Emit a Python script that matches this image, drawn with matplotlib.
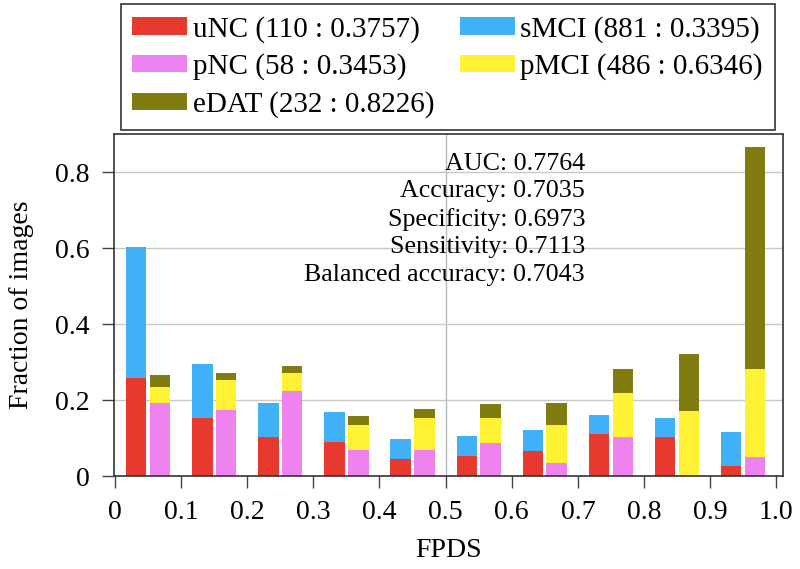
import numpy as np
import matplotlib
matplotlib.use("Agg")
import matplotlib.pyplot as plt

plt.rcParams['font.family'] = ['Liberation Serif', 'DejaVu Serif']

# bin starts of the FPDS histogram
bins = [0.0, 0.1, 0.2, 0.3, 0.4, 0.5, 0.6, 0.7, 0.8, 0.9]

# fraction of images per class and bin
uNC = [0.257, 0.154, 0.102, 0.090, 0.046, 0.054, 0.066, 0.110, 0.102, 0.026]
sMCI = [0.345, 0.140, 0.089, 0.078, 0.052, 0.051, 0.056, 0.050, 0.052, 0.089]
pNC = [0.191, 0.174, 0.225, 0.068, 0.068, 0.088, 0.035, 0.104, 0.000, 0.051]
pMCI = [0.044, 0.079, 0.047, 0.067, 0.084, 0.064, 0.100, 0.115, 0.172, 0.230]
eDAT = [0.031, 0.019, 0.017, 0.023, 0.025, 0.037, 0.056, 0.062, 0.150, 0.586]

labels = {
    'uNC': 'uNC (110 : 0.3757)',
    'sMCI': 'sMCI (881 : 0.3395)',
    'pNC': 'pNC (58 : 0.3453)',
    'pMCI': 'pMCI (486 : 0.6346)',
    'eDAT': 'eDAT (232 : 0.8226)',
}
metrics = ['AUC: 0.7764', 'Accuracy: 0.7035', 'Specificity: 0.6973',
           'Sensitivity: 0.7113', 'Balanced accuracy: 0.7043']

colors = {'uNC': '#e8392f', 'sMCI': '#42b0f7', 'pNC': '#ee82ee',
          'pMCI': '#fff133', 'eDAT': '#807c10'}

fig = plt.figure(figsize=(8, 5.69), dpi=100)
ax = fig.add_axes([0.1425, 0.1634, 0.8365, 0.6011])

x = np.array(bins)
w = 0.031
xl = x + 0.032
xr = x + 0.068

h = {}
h['uNC'] = ax.bar(xl, uNC, w, color=colors['uNC'], zorder=2)
h['sMCI'] = ax.bar(xl, sMCI, w, bottom=uNC, color=colors['sMCI'], zorder=2)
h['pNC'] = ax.bar(xr, pNC, w, color=colors['pNC'], zorder=2)
b2 = np.array(pNC)
h['pMCI'] = ax.bar(xr, pMCI, w, bottom=b2, color=colors['pMCI'], zorder=2)
b2 = b2 + np.array(pMCI)
h['eDAT'] = ax.bar(xr, eDAT, w, bottom=b2, color=colors['eDAT'], zorder=2)

ax.set_xlim(-0.0015, 1.0106)
ax.set_ylim(0, 0.9)
ax.set_xticks(np.arange(0, 1.01, 0.1))
ax.set_xticklabels(['0', '0.1', '0.2', '0.3', '0.4', '0.5', '0.6', '0.7', '0.8', '0.9', '1.0'])
ax.set_yticks([0, 0.2, 0.4, 0.6, 0.8])
ax.set_yticklabels(['0', '0.2', '0.4', '0.6', '0.8'])
ax.tick_params(labelsize=20, direction='out', length=8.6, width=1,
               color='#444444', pad=9)
ax.yaxis.grid(True, color='#c8c8c8', lw=1, zorder=0)
ax.axvline(0.5, color='#b8b8b8', lw=1, zorder=0)
ax.set_axisbelow(True)
for s in ax.spines.values():
    s.set_color('#333333')
    s.set_linewidth(1.2)

ax.set_xlabel('FPDS', fontsize=20, labelpad=9)
ax.set_ylabel('Fraction of images', fontsize=20, labelpad=15)

ax.text(0.704, 0.751, '\n'.join(metrics), transform=ax.transAxes,
        ha='right', va='center', fontsize=18.7, linespacing=1.32,
        multialignment='right', zorder=3)

order = ['uNC', 'pNC', 'eDAT', 'sMCI', 'pMCI']
leg = fig.legend([h[k] for k in order], [labels[k] for k in order],
                 loc='upper left', bbox_to_anchor=(0.151, 0.993),
                 ncol=2, fontsize=21, frameon=True,
                 fancybox=False, edgecolor='black', handlelength=1.88,
                 handleheight=0.55, borderaxespad=0, borderpad=0.4,
                 labelspacing=0.37, columnspacing=0.86, handletextpad=0.2)
leg.get_frame().set_linewidth(1.2)

fig.savefig('out.png', dpi=100)
